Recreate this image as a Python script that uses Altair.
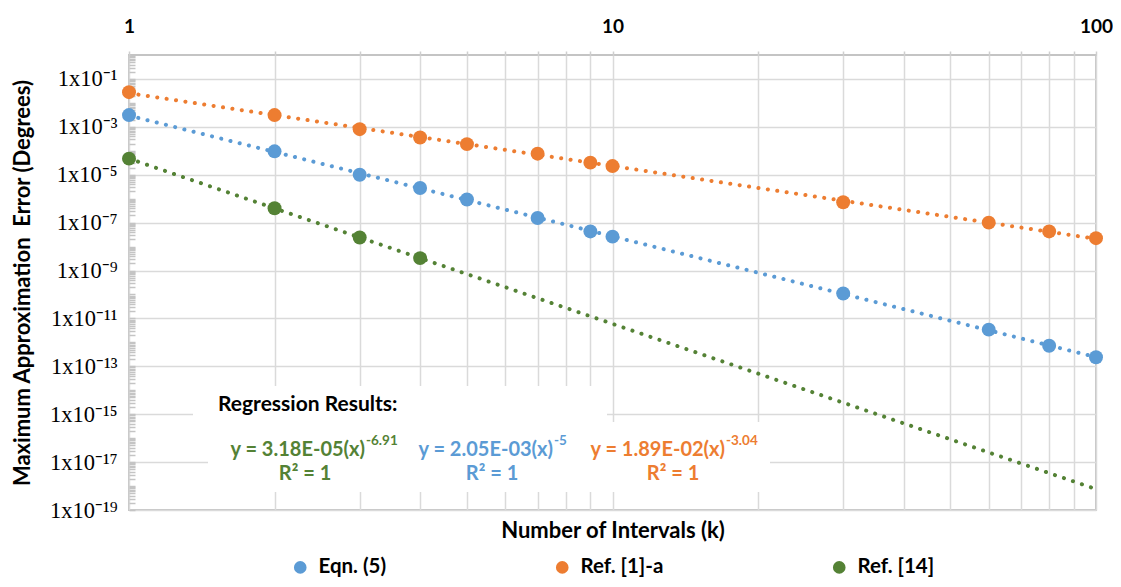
import altair as alt
import pandas as pd

# ---------------- data ----------------
x_k = [1, 2, 3, 4, 5, 7, 9, 10, 30, 60, 80, 100]
eqn5 = [3.1e-3, 9.5e-5, 1.0e-5, 2.8e-6, 9.2e-7, 1.56e-7, 4.3e-8, 2.6e-8,
        1.1e-10, 3.4e-12, 7.2e-13, 2.4e-13]
ref1a = [2.8e-2, 3.1e-3, 8.0e-4, 3.6e-4, 1.9e-4, 7.6e-5, 3.2e-5, 2.3e-5,
         7.1e-7, 1.0e-7, 4.3e-8, 2.25e-8]
x_k14 = [1, 2, 3, 4]
ref14 = [4.7e-5, 4.0e-7, 2.4e-8, 3.3e-9]

series_names = ["Eqn. (5)", "Ref. [1]-a", "Ref. [14]"]
series_colors = ["#5B9BD5", "#ED7D31", "#548235"]

x_label_values = [1, 10, 100]
x_grid_values = [1, 2, 3, 4, 5, 6, 7, 8, 9, 10, 20, 30, 40, 50, 60, 70, 80, 90, 100]
y_label_exponents = [-1, -3, -5, -7, -9, -11, -13, -15, -17, -19]

title_y = "Maximum Approximation\u00a0 Error (Degrees)"
title_x = "Number of Intervals (k)"
reg_header = "Regression Results:"
eq_main = ["y = 3.18E-05(x)", "y = 2.05E-03(x)", "y = 1.89E-02(x)"]
eq_exp = ["-6.91", "-5", "-3.04"]
eq_r2 = ["R\u00b2 = 1", "R\u00b2 = 1", "R\u00b2 = 1"]
eq_colors = ["#548235", "#5B9BD5", "#ED7D31"]

# ---------------- derived tables ----------------
df = pd.DataFrame({
    "k": x_k + x_k + x_k14,
    "err": eqn5 + ref1a + ref14,
    "series": [series_names[0]] * len(x_k) + [series_names[1]] * len(x_k)
    + [series_names[2]] * len(x_k14),
})

y_label_values = [10.0 ** e for e in y_label_exponents]
y_minor_values = [m * 10.0 ** e for e in range(-19, 0) for m in range(1, 10)]

sup = str.maketrans("-0123456789", "\u207b\u2070\u00b9\u00b2\u00b3\u2074\u2075\u2076\u2077\u2078\u2079")
y_expr = ""
for e in y_label_exponents:
    y_expr += f"abs(log(datum.value)/LN10 - ({e})) < 0.01 ? '1x10{str(e).translate(sup)}' : "
y_expr += "''"
x_expr = "indexof(" + str(x_label_values) + ", datum.value) >= 0 ? format(datum.value, 'd') : ''"

FONT = "Lato"
GRID = "#dadada"

x_scale = alt.Scale(type="log", domain=[1, 100], nice=False)
y_scale = alt.Scale(type="log", domain=[1e-19, 1], nice=False)
color_scale = alt.Scale(domain=series_names, range=series_colors)
legend = alt.Legend(
    orient="none", legendX=161, legendY=502, direction="horizontal",
    columns=3, columnPadding=165, title=None, labelFont=FONT,
    labelFontSize=20.5, labelFontWeight="bold", labelColor="#000",
    symbolType="circle", symbolSize=160, symbolStrokeWidth=0,
    symbolOpacity=1, labelOffset=8, padding=0)

one = pd.DataFrame({"a": [0]})

# white boxes behind the regression text
box1 = alt.Chart(one).mark_rect(color="white").encode(
    x=alt.value(64), x2=alt.value(478), y=alt.value(331), y2=alt.value(369))
box2 = alt.Chart(one).mark_rect(color="white").encode(
    x=alt.value(79), x2=alt.value(641), y=alt.value(367), y2=alt.value(437))

trend = alt.Chart(df).transform_regression(
    "k", "err", method="pow", groupby=["series"], extent=[1, 100]
).mark_line(strokeWidth=4, strokeDash=[0.1, 9.4], strokeCap="round").encode(
    x=alt.X("k:Q", scale=x_scale, axis=alt.Axis(
        orient="top", values=x_grid_values, labelExpr=x_expr, labelFont=FONT,
        labelFontWeight="bold", labelFontSize=19, labelColor="#000",
        labelPadding=15, tickSize=4, tickColor="#cfcfcf", tickWidth=1.5,
        grid=True, gridColor=GRID, gridWidth=1.5, domain=False, title=None,
        labelFlush=False, labelOverlap=False)),
    y=alt.Y("err:Q", scale=y_scale, axis=alt.Axis(
        orient="left", values=y_label_values, labelExpr=y_expr,
        labelFont="Liberation Serif", labelFontSize=22.5, labelColor="#000",
        labelPadding=12, ticks=False, grid=True, gridColor=GRID, gridWidth=1.5,
        domain=False, title=title_y, titleFont=FONT, titleFontSize=22,
        titleFontWeight="bold", titleColor="#000", titleX=-107, titleY=227.5,
        titleAngle=270, titleBaseline="middle", labelFlush=False,
        labelOverlap=False)),
    color=alt.Color("series:N", scale=color_scale, legend=legend),
)

points = alt.Chart(df).mark_circle(size=195, opacity=1).encode(
    x=alt.X("k:Q", scale=x_scale, axis=alt.Axis(
        orient="bottom", labels=False, ticks=False, domain=False, grid=False,
        title=title_x, titleFont=FONT, titleFontSize=22, titleFontWeight="bold",
        titleColor="#000", titlePadding=10)),
    y=alt.Y("err:Q", scale=y_scale, axis=alt.Axis(
        orient="left", values=y_minor_values, labels=False, ticks=True,
        tickSize=6, tickColor="#c4c4c4", tickWidth=1.5, offset=-6,
        domain=False, grid=False, title=None)),
    color=alt.Color("series:N", scale=color_scale, legend=legend),
)

texts = [
    alt.Chart(one).mark_text(text=reg_header, font=FONT, fontSize=21, fontWeight="bold",
                             color="#000", align="left", baseline="middle").encode(
        x=alt.value(89), y=alt.value(350)),
]
main_right = [236, 424, 596]
r2_center = [176, 363, 544]
for i in range(3):
    texts.append(alt.Chart(one).mark_text(text=eq_main[i], font=FONT, fontSize=20,
                                          fontWeight="bold", color=eq_colors[i],
                                          align="right", baseline="middle").encode(
        x=alt.value(main_right[i]), y=alt.value(395)))
    texts.append(alt.Chart(one).mark_text(text=eq_exp[i], font=FONT, fontSize=13.5,
                                          fontWeight="bold", color=eq_colors[i],
                                          align="left", baseline="middle").encode(
        x=alt.value(main_right[i] + 1), y=alt.value(386)))
    texts.append(alt.Chart(one).mark_text(text=eq_r2[i], font=FONT, fontSize=20,
                                          fontWeight="bold", color=eq_colors[i],
                                          align="center", baseline="middle").encode(
        x=alt.value(r2_center[i]), y=alt.value(419)))

chart = alt.layer(box1, box2, trend, points, *texts).resolve_axis(
    x="independent", y="independent"
).properties(
    width=967, height=455,
    autosize=alt.AutoSizeParams(type="none"),
    padding={"left": 121, "top": 47, "right": 17, "bottom": 69},
    background="white",
).configure_view(stroke="#c4c4c4", strokeWidth=2)

chart.save("out.html", embed_options={"renderer": "svg", "actions": False})
